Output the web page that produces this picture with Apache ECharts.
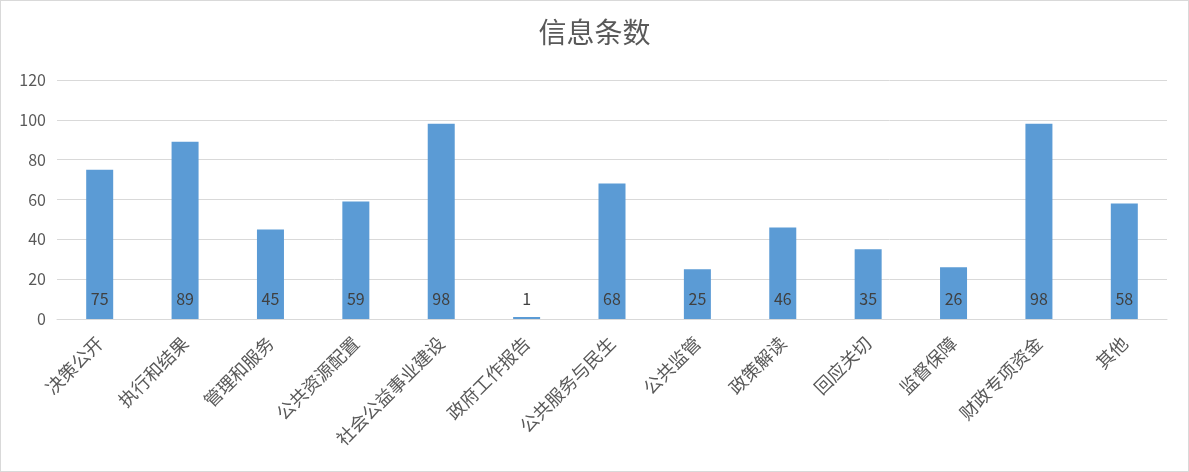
<!DOCTYPE html>
<html><head><meta charset="utf-8">
<script src="https://cdn.jsdelivr.net/npm/echarts@6/dist/echarts.min.js"></script>
<style>html,body{margin:0;padding:0;background:#fff;}#c{width:1189px;height:472px;box-sizing:border-box;border:1px solid #d9d9d9;}</style>
</head><body><div id="c"></div>
<script>
const titleText = '信息条数';
const categories = ['决策公开','执行和结果','管理和服务','公共资源配置','社会公益事业建设','政府工作报告','公共服务与民生','公共监管','政策解读','回应关切','监督保障','财政专项资金','其他'];
const values = [75, 89, 45, 59, 98, 1, 68, 25, 46, 35, 26, 98, 58];
const yTicks = {min: 0, max: 120, interval: 20};

const font = '"Noto Sans CJK SC", "Noto Sans", sans-serif';
const chart = echarts.init(document.getElementById('c'));
chart.setOption({
  animation: false,
  textStyle: {fontFamily: font},
  title: {text: titleText, left: 'center', top: 12, textStyle: {fontSize: 28, fontWeight: 'normal', color: '#595959', fontFamily: font}},
  grid: {left: 56, right: 21, top: 79, bottom: 152, containLabel: false},
  xAxis: {
    type: 'category', data: categories,
    axisLine: {lineStyle: {color: '#d9d9d9', width: 1}},
    axisTick: {show: false},
    axisLabel: {rotate: 45, interval: 0, fontSize: 18, color: '#595959', margin: 21, padding: [8, 0, 0, 0], verticalAlign: 'middle', fontFamily: font}
  },
  yAxis: {
    type: 'value', min: yTicks.min, max: yTicks.max, interval: yTicks.interval,
    axisLine: {show: false}, axisTick: {show: false},
    splitLine: {lineStyle: {color: '#d9d9d9', width: 1}},
    axisLabel: {fontSize: 16, color: '#595959', margin: 11, fontFamily: font}
  },
  series: [{
    type: 'bar', data: values, barWidth: 27,
    itemStyle: {color: '#5b9bd5'},
    label: {show: true, position: 'insideBottom', distance: 12, fontSize: 16, color: '#404040', fontFamily: font}
  }]
});
</script></body></html>
